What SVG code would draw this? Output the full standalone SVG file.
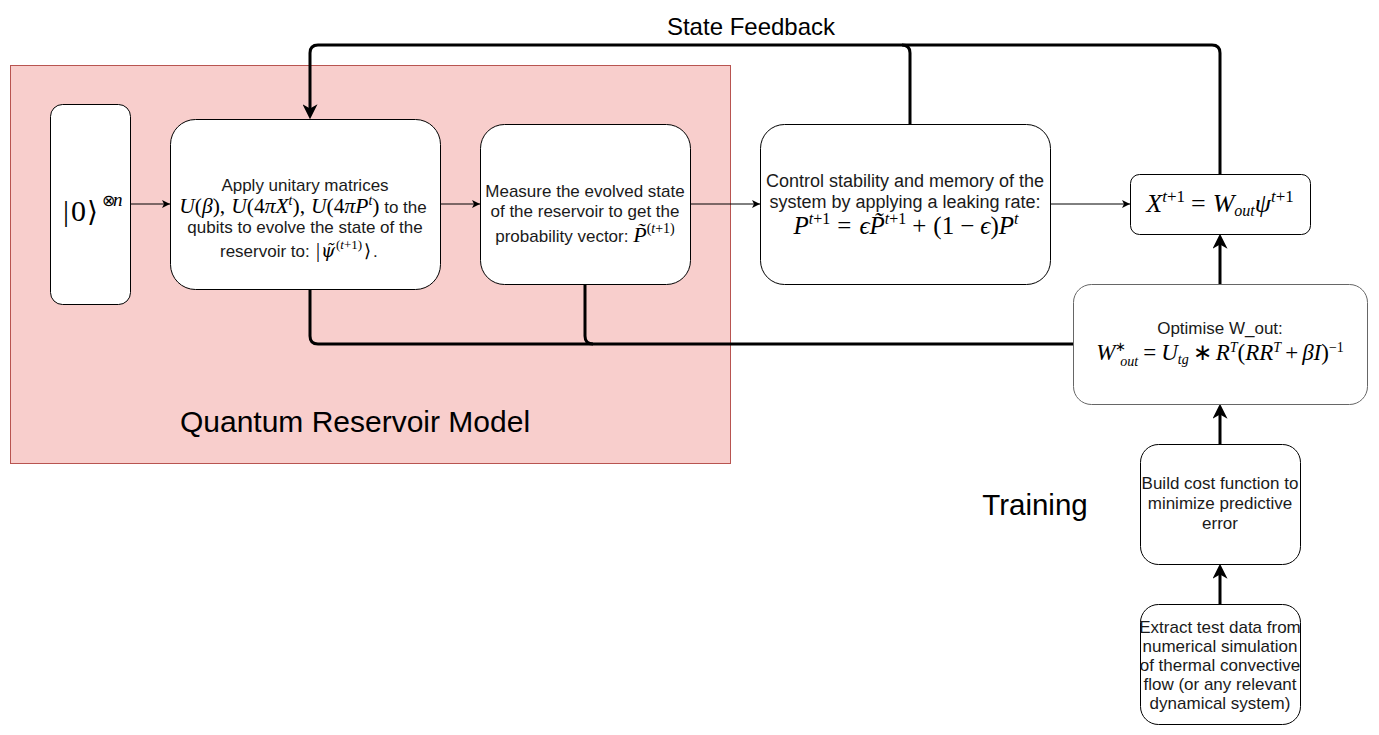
<svg xmlns="http://www.w3.org/2000/svg" width="1379" height="735" viewBox="0 0 1379 735">
<style>
.box{fill:#fff;stroke:#000;stroke-width:1}
.t{font-family:"Liberation Sans",Arial,sans-serif;font-size:17px;fill:#1a1a1a;text-anchor:middle}
.ts{font-family:"Liberation Sans",Arial,sans-serif;font-size:17px;fill:#1a1a1a}
.lbl{font-family:"Liberation Sans",Arial,sans-serif;fill:#000;text-anchor:middle}
.m{font-family:"Liberation Serif","Times New Roman",serif;font-style:italic;fill:#000}
.r{font-family:"Liberation Serif","Times New Roman",serif;font-style:normal;fill:#000}
.ang{font-family:"DejaVu Serif",serif;font-style:normal;fill:#000}
.dm{font-family:"DejaVu Serif",serif;font-style:italic;fill:#000}
.thick{stroke:#000;stroke-width:3;fill:none}
.thin{stroke:#000;stroke-width:1;fill:none}
</style>
<defs>
<marker id="ah" markerUnits="userSpaceOnUse" viewBox="0 0 14 14" markerWidth="15" markerHeight="15" refX="10" refY="7" orient="auto"><path d="M0,0 L14,7 L0,14 L4,7 Z" fill="#000"/></marker>
<marker id="as" markerUnits="userSpaceOnUse" viewBox="0 0 8 8" markerWidth="8" markerHeight="8" refX="8" refY="4" orient="auto"><path d="M0,0 L8,4 L0,8 L2,4 Z" fill="#000"/></marker>
</defs>
<rect width="1379" height="735" fill="#fff"/>

<g id="reservoir-container">
<rect x="10.5" y="65.5" width="720" height="398" fill="#f8cecc" stroke="#b85450" stroke-width="1"/>
<text class="lbl" x="355" y="432" font-size="30">Quantum Reservoir Model</text>
</g>

<g id="label-feedback"><text class="lbl" x="751" y="35" font-size="24">State Feedback</text></g>
<g id="label-training"><text class="lbl" x="1035" y="515" font-size="29.5">Training</text></g>

<g id="connectors">
<path class="thick" d="M1220,174 V53 Q1220,45 1212,45 H318 Q310,45 310,53 V115" marker-end="url(#ah)"/>
<path class="thick" d="M910,124 V53 Q910,45 902,45"/>
<path class="thick" d="M310,289 V336 Q310,344 318,344 H1073"/>
<path class="thick" d="M585,284 V336 Q585,344 593,344"/>
<path class="thick" d="M1220,284 V238" marker-end="url(#ah)"/>
<path class="thick" d="M1220,444 V408" marker-end="url(#ah)"/>
<path class="thick" d="M1220,604 V568" marker-end="url(#ah)"/>
<path class="thin" d="M130,204 H170" marker-end="url(#as)"/>
<path class="thin" d="M440,204 H480" marker-end="url(#as)"/>
<path class="thin" d="M690,204 H760" marker-end="url(#as)"/>
<path class="thin" d="M1050,204 H1130" marker-end="url(#as)"/>
</g>

<g id="node-init">
<rect class="box" x="50.5" y="104.5" width="80" height="200" rx="12"/>
<text class="r" font-size="30" x="63" y="221">|</text>
<text class="r" font-size="30" x="71" y="221">0</text>
<text class="ang" font-size="28" x="87" y="221">⟩</text>
<text class="r" font-size="16" x="102" y="206">⊗</text>
<text class="m" font-size="19" x="113" y="206">n</text>
</g>

<g id="node-apply">
<rect class="box" x="170.5" y="119.5" width="270" height="170" rx="25"/>
<text class="t" x="305" y="191">Apply unitary matrices</text>
<text class="t" x="303" y="213"><tspan class="m" font-size="21.5">U</tspan><tspan class="r" font-size="21.5">(</tspan><tspan class="m" font-size="21.5">β</tspan><tspan class="r" font-size="21.5">),</tspan><tspan class="m" font-size="21.5" dx="6">U</tspan><tspan class="r" font-size="21.5">(4</tspan><tspan class="m" font-size="21.5">πX</tspan><tspan class="m" font-size="14" dy="-8">t</tspan><tspan class="r" font-size="21.5" dy="8">),</tspan><tspan class="m" font-size="21.5" dx="6">U</tspan><tspan class="r" font-size="21.5">(4</tspan><tspan class="m" font-size="21.5">πP</tspan><tspan class="m" font-size="14" dy="-8">t</tspan><tspan class="r" font-size="21.5" dy="8">)</tspan> to the</text>
<text class="t" x="305" y="233">qubits to evolve the state of the</text>
<text class="ts" x="220" y="257">reservoir to:</text>
<text class="r" font-size="20" x="316" y="257">|</text>
<text class="dm" font-size="18" x="321" y="257">ψ̃</text>
<text font-size="13" x="336" y="249"><tspan class="r">(</tspan><tspan class="m">t</tspan><tspan class="r">+1)</tspan></text>
<text class="ang" font-size="18" x="364" y="257">⟩</text>
<text class="ts" x="373" y="257">.</text>
</g>

<g id="node-measure">
<rect class="box" x="480.5" y="124.5" width="210" height="160" rx="24"/>
<text class="t" x="585" y="197">Measure the evolved state</text>
<text class="t" x="585" y="217">of the reservoir to get the</text>
<text class="t" x="585" y="242">probability vector: <tspan class="m" font-size="22">P̃</tspan><tspan class="r" font-size="14" dy="-9">(</tspan><tspan class="m" font-size="14">t</tspan><tspan class="r" font-size="14">+1)</tspan></text>
</g>

<g id="node-control">
<rect class="box" x="760.5" y="124.5" width="290" height="160" rx="24"/>
<text class="t" x="905" y="187" style="font-size:18px">Control stability and memory of the</text>
<text class="t" x="905" y="208" style="font-size:18px">system by applying a leaking rate:</text>
<text class="t" x="906" y="234"><tspan class="m" font-size="25">P</tspan><tspan class="m" font-size="16" dy="-10">t</tspan><tspan class="r" font-size="16">+1</tspan><tspan class="r" font-size="25" dy="10" dx="7">=</tspan><tspan class="m" font-size="25" dx="8">ϵP̃</tspan><tspan class="m" font-size="16" dy="-10">t</tspan><tspan class="r" font-size="16">+1</tspan><tspan class="r" font-size="25" dy="10" dx="6">+</tspan><tspan class="r" font-size="25" dx="7">(1</tspan><tspan class="r" font-size="25" dx="6">−</tspan><tspan class="m" font-size="25" dx="6">ϵ</tspan><tspan class="r" font-size="25">)</tspan><tspan class="m" font-size="25">P</tspan><tspan class="m" font-size="16" dy="-10">t</tspan></text>
</g>

<g id="node-output">
<rect class="box" x="1130.5" y="174.5" width="180" height="60" rx="9"/>
<text class="t" x="1220" y="212"><tspan class="m" font-size="26">X</tspan><tspan class="m" font-size="17" dy="-10">t</tspan><tspan class="r" font-size="17">+1</tspan><tspan class="r" font-size="26" dy="10" dx="6">=</tspan><tspan class="m" font-size="26" dx="7">W</tspan><tspan class="m" font-size="16" dy="4">out</tspan><tspan class="m" font-size="26" dy="-4">ψ</tspan><tspan class="m" font-size="17" dy="-10">t</tspan><tspan class="r" font-size="17">+1</tspan></text>
</g>

<g id="node-optimise">
<rect x="1073.5" y="284.5" width="294" height="120" rx="18" fill="#fff" stroke="#666" stroke-width="1"/>
<text class="t" x="1220" y="334">Optimise W_out:</text>
<text class="t" x="1220" y="360"><tspan class="m" font-size="23">W</tspan><tspan class="r" font-size="13" dy="-9">∗</tspan><tspan class="m" font-size="14" dx="-6" dy="15">out</tspan><tspan class="r" font-size="23" dy="-6" dx="5">=</tspan><tspan class="m" font-size="23" dx="5">U</tspan><tspan class="m" font-size="14" dy="4">tg</tspan><tspan class="r" font-size="23" dy="-4" dx="4">∗</tspan><tspan class="m" font-size="23" dx="4">R</tspan><tspan class="m" font-size="14" dy="-8">T</tspan><tspan class="r" font-size="23" dy="8">(</tspan><tspan class="m" font-size="23">RR</tspan><tspan class="m" font-size="14" dy="-8">T</tspan><tspan class="r" font-size="23" dy="8" dx="4">+</tspan><tspan class="m" font-size="23" dx="4">βI</tspan><tspan class="r" font-size="23">)</tspan><tspan class="r" font-size="14" dy="-8">−1</tspan></text>
</g>

<g id="node-cost">
<rect class="box" x="1140.5" y="444.5" width="160" height="120" rx="18"/>
<text class="t" x="1220" y="489">Build cost function to</text>
<text class="t" x="1220" y="509">minimize predictive</text>
<text class="t" x="1220" y="529">error</text>
</g>

<g id="node-data">
<rect class="box" x="1140.5" y="604.5" width="160" height="120" rx="18"/>
<text class="t" x="1220" y="633">Extract test data from</text>
<text class="t" x="1220" y="652">numerical simulation</text>
<text class="t" x="1220" y="671">of thermal convective</text>
<text class="t" x="1220" y="690">flow (or any relevant</text>
<text class="t" x="1220" y="709">dynamical system)</text>
</g>
</svg>
